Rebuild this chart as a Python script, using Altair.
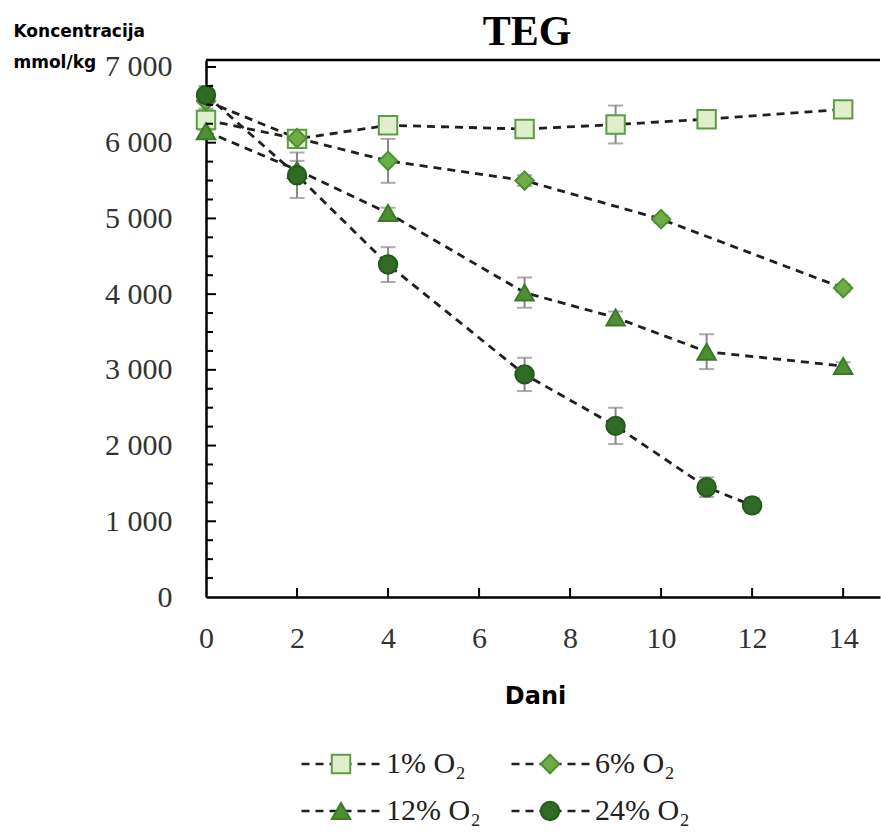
import altair as alt
import pandas as pd

series_names = ["1% O₂", "6% O₂", "12% O₂", "24% O₂"]

days_1 = [0, 2, 4, 7, 9, 11, 14]
conc_1 = [6300, 6050, 6230, 6180, 6240, 6310, 6440]
err_1 = [130, 60, 60, 50, 250, 60, 50]

days_6 = [0, 2, 4, 7, 10, 14]
conc_6 = [6550, 6060, 5760, 5500, 4990, 4080]
err_6 = [100, 80, 290, 70, 50, 50]

days_12 = [0, 2, 4, 7, 9, 11, 14]
conc_12 = [6150, 5640, 5070, 4020, 3690, 3240, 3050]
err_12 = [80, 120, 70, 200, 80, 230, 50]

days_24 = [0, 2, 4, 7, 9, 11, 12]
conc_24 = [6630, 5570, 4390, 2940, 2260, 1450, 1210]
err_24 = [120, 300, 230, 220, 240, 130, 100]

fills = ["#dfeecb", "#6cae45", "#4f8f33", "#2f6b24"]
strokes = ["#5f9b45", "#4f8f33", "#3d7a28", "#245a1c"]
shapes = ["square", "diamond", "triangle-up", "circle"]

x_ticks = [0, 2, 4, 6, 8, 10, 12, 14]
y_ticks = [0, 1000, 2000, 3000, 4000, 5000, 6000, 7000]
y_minor = [v for v in range(250, 7001, 250) if v % 1000 != 0]

rows = []
for name, d, c, e in zip(series_names,
                         [days_1, days_6, days_12, days_24],
                         [conc_1, conc_6, conc_12, conc_24],
                         [err_1, err_6, err_12, err_24]):
    for di, ci, ei in zip(d, c, e):
        rows.append({"series": name, "day": di, "value": ci, "lo": ci - ei, "hi": ci + ei})
df = pd.DataFrame(rows)

W, H = 674, 537
xscale = alt.Scale(domain=[0, 14.81], nice=False, zero=False)
yscale = alt.Scale(domain=[0, 7092], nice=False, zero=False)

x_axis = alt.Axis(
    values=x_ticks, title="Dani", grid=False, ticks=False, tickSize=0,
    labelFont="Liberation Serif", labelFontSize=30, labelColor="#333333",
    labelPadding=26, labelFlush=False, labelOverlap=False,
    domainColor="black", domainWidth=2.5,
    titleFont="DejaVu Sans", titleFontWeight="bold", titleFontSize=24, titleColor="black",
    titleX=329, titleY=106, titleAlign="center", titleBaseline="alphabetic",
)
y_axis = alt.Axis(
    values=y_ticks, title=["Koncentracija", "mmol/kg"], grid=False, ticks=False, tickSize=0,
    labelFont="Liberation Serif", labelFontSize=30, labelColor="#333333",
    labelPadding=34, labelFlush=False, labelOverlap=False,
    labelExpr="replace(format(datum.value, ','), ',', ' ')",
    domainColor="black", domainWidth=2.5,
    titleFont="DejaVu Sans", titleFontWeight="bold", titleFontSize=17, titleColor="black",
    titleAngle=0, titleAlign="left", titleBaseline="alphabetic",
    titleX=-193, titleY=-24, titleLineHeight=31,
)

X = alt.X("day:Q", scale=xscale, axis=x_axis)

base = alt.Chart(df)

err = base.mark_rule(color="#888888", strokeWidth=2).encode(
    x=X, y=alt.Y("lo:Q", scale=yscale, axis=y_axis), y2="hi:Q"
)
cap_lo = base.mark_tick(orient="horizontal", size=15, thickness=2, color="#888888").encode(
    x=X, y=alt.Y("lo:Q", scale=yscale, axis=y_axis)
)
cap_hi = base.mark_tick(orient="horizontal", size=15, thickness=2, color="#888888").encode(
    x=X, y=alt.Y("hi:Q", scale=yscale, axis=y_axis)
)

legend_common = dict(
    title=None, orient="none", direction="horizontal", legendY=689, columns=2, rowPadding=17,
    labelFont="Liberation Serif", labelFontSize=30, labelColor="#222222",
    clipHeight=30, padding=0,
)
# dashed-line part of each legend key (its labels are blank spacers)
legend_lines = alt.Legend(
    legendX=94, columnPadding=123, symbolType="stroke", symbolSize=6400,
    symbolStrokeWidth=2.5, symbolStrokeColor="#1f1f1f", labelOpacity=0,
    labelExpr="'            '", labelOffset=4, **legend_common,
)
legend_pts = alt.Legend(
    legendX=120, columnPadding=54, symbolSize=340, symbolStrokeWidth=2,
    symbolOpacity=1, labelOffset=30, **legend_common,
)

lines = base.transform_calculate(dash_key="'L' + datum.series").mark_line(
    color="#1f1f1f", strokeWidth=2.8
).encode(
    x=X,
    y=alt.Y("value:Q", scale=yscale, axis=y_axis),
    strokeDash=alt.StrokeDash(
        "dash_key:N",
        scale=alt.Scale(domain=["L" + s for s in series_names], range=[[8, 6]] * 4),
        legend=legend_lines,
    ),
    order="day:Q",
)

pts = base.mark_point(filled=True, size=340, strokeWidth=2, opacity=1).encode(
    x=X,
    y=alt.Y("value:Q", scale=yscale, axis=y_axis),
    shape=alt.Shape("series:N", scale=alt.Scale(domain=series_names, range=shapes), legend=legend_pts),
    fill=alt.Fill("series:N", scale=alt.Scale(domain=series_names, range=fills), legend=legend_pts),
    stroke=alt.Stroke("series:N", scale=alt.Scale(domain=series_names, range=strokes), legend=legend_pts),
)

ymaj = alt.Chart(pd.DataFrame({"v": y_ticks[1:]})).mark_rule(color="black", strokeWidth=2, x2Offset=10).encode(
    y=alt.Y("v:Q", scale=yscale, axis=y_axis), x=alt.XDatum(0), x2=alt.X2Datum(0)
)
ymin = alt.Chart(pd.DataFrame({"v": y_minor})).mark_rule(color="black", strokeWidth=2, x2Offset=7).encode(
    y=alt.Y("v:Q", scale=yscale, axis=y_axis), x=alt.XDatum(0), x2=alt.X2Datum(0)
)
xt = alt.Chart(pd.DataFrame({"v": x_ticks[1:]})).mark_rule(color="black", strokeWidth=2, y2Offset=-9).encode(
    x=alt.X("v:Q", scale=xscale, axis=x_axis), y=alt.YDatum(0), y2=alt.Y2Datum(0)
)
frame = alt.Chart(pd.DataFrame({"a": [0]})).mark_rule(color="black", strokeWidth=2.5).encode(
    x=alt.value(0), x2=alt.value(W), y=alt.value(0)
)

chart = alt.layer(err, cap_lo, cap_hi, lines, pts, ymaj, ymin, xt, frame).properties(
    width=W, height=H,
    title=alt.Title("TEG", font="Liberation Serif", fontSize=42, fontWeight="bold",
                    color="black", anchor="middle", dx=-16, dy=32, offset=0),
    padding={"left": 206, "top": 60, "right": 1, "bottom": 235},
    autosize=alt.AutoSizeParams(type="none"),
).configure_view(stroke="transparent")

chart.save("out.html", embed_options={"renderer": "svg", "actions": False})
